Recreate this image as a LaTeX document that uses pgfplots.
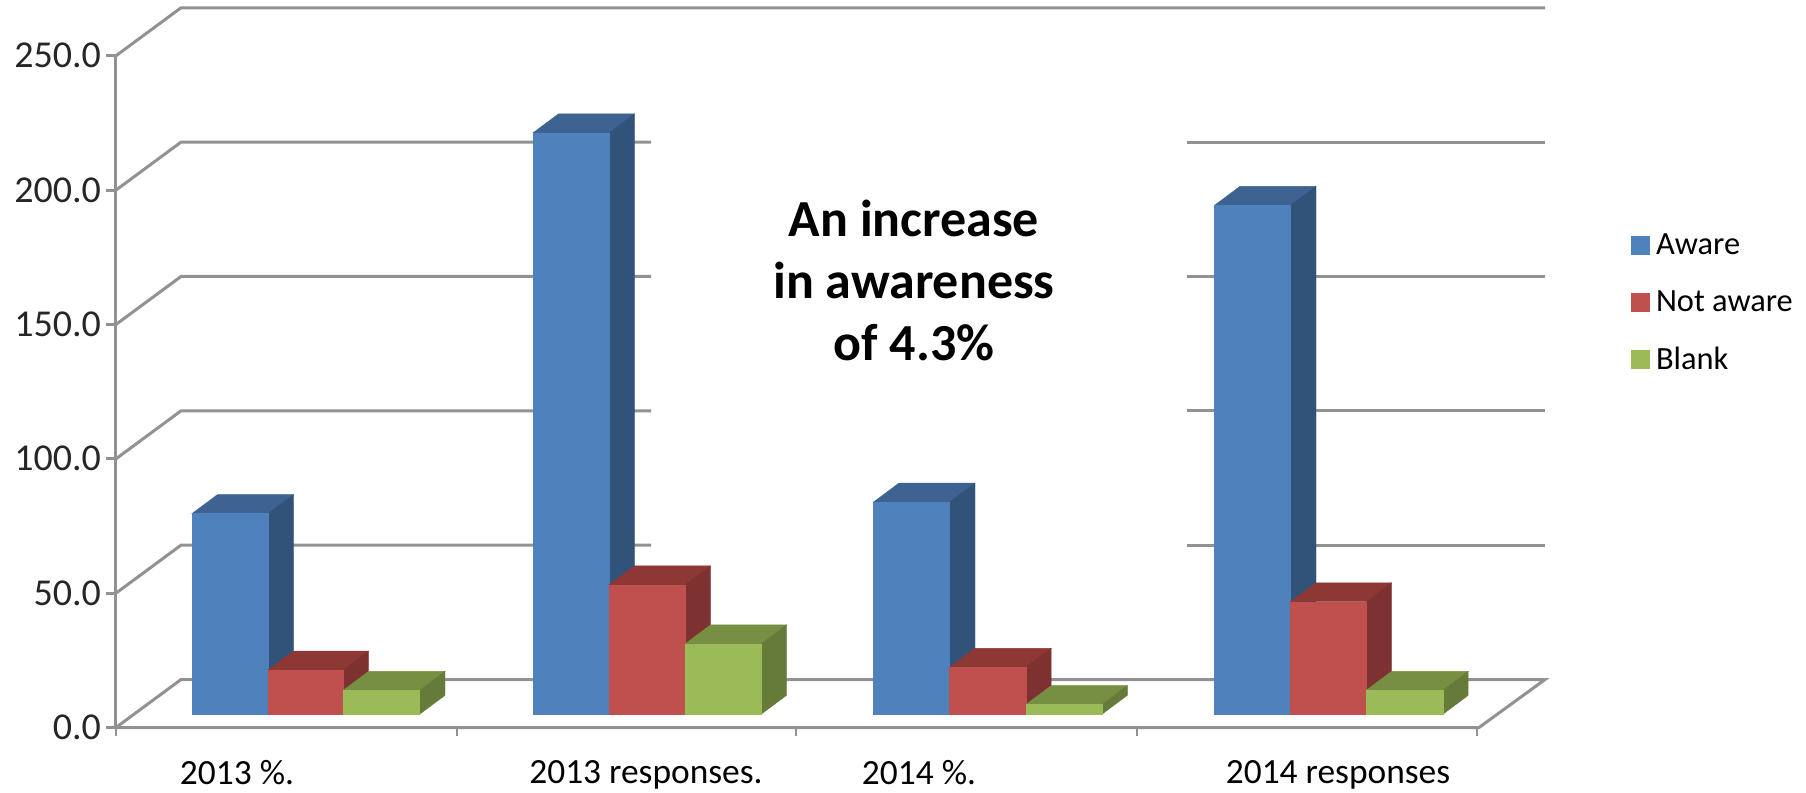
\documentclass[border=0pt]{standalone}
\usepackage{fontspec}
\setmainfont{Carlito}
\usepackage{pgfplots}
\pgfplotsset{compat=1.18}

\definecolor{gridgray}{HTML}{929292}
\definecolor{awareF}{HTML}{4F81BD}
\definecolor{awareT}{HTML}{3E6291}
\definecolor{awareS}{HTML}{315279}
\definecolor{notF}{HTML}{C0504D}
\definecolor{notT}{HTML}{8E3836}
\definecolor{notS}{HTML}{7D3130}
\definecolor{blankF}{HTML}{9BBB59}
\definecolor{blankT}{HTML}{768F42}
\definecolor{blankS}{HTML}{667B39}

% x runs in pixels of the page, y in chart units; the bars stand a little
% inside the floor, and each has a receding top and side face
\newcommand{\floorlift}{4.9}
\newcommand{\depthx}{25.5}
\newcommand{\depthy}{7.07}
\newcommand{\threedbar}[4]{%
  \pgfmathsetmacro{\ybase}{\floorlift}%
  \pgfmathsetmacro{\ytop}{\floorlift+#3}%
  \pgfmathsetmacro{\ybacktop}{\ytop+\depthy}%
  \pgfmathsetmacro{\ybackbase}{\ybase+\depthy}%
  \pgfmathsetmacro{\xbackl}{#1+\depthx}%
  \pgfmathsetmacro{\xbackr}{#2+\depthx}%
  \addplot[forget plot,draw=#4T,line width=0.2pt,fill=#4T] coordinates {(#1,\ytop) (#2,\ytop) (\xbackr,\ybacktop) (\xbackl,\ybacktop)} --cycle;
  \addplot[forget plot,draw=#4S,line width=0.2pt,fill=#4S] coordinates {(#2,\ybase) (\xbackr,\ybackbase) (\xbackr,\ybacktop) (#2,\ytop)} --cycle;
  \addplot[forget plot,draw=#4F,line width=0.2pt,fill=#4F] coordinates {(#1,\ybase) (#2,\ybase) (#2,\ytop) (#1,\ytop)} --cycle;
}
\pgfplotsset{wall/.style={forget plot,gridgray,line width=1.5pt}}

\begin{document}
\begin{tikzpicture}
\useasboundingbox (-58pt,-32.75pt) rectangle (845pt,363.75pt);
\begin{axis}[
  scale only axis,
  width=845pt, height=363.75pt,
  xmin=116, xmax=1806,
  ymin=0, ymax=270.75,
  clip=false,
  axis line style={draw=none},
  tick align=outside,
  xtick pos=bottom, ytick pos=left,
  ytick={0,50,100,150,200,250},
  yticklabel style={
    /pgf/number format/fixed,
    /pgf/number format/fixed zerofill,
    /pgf/number format/precision=1,
    /pgf/number format/assume math mode=true,
    font=\fontsize{19}{21}\selectfont, text=black!85, xshift=1pt},
  major tick length=5pt,
  minor tick length=4pt,
  major y tick style={gridgray,line width=1.4pt},
  major x tick style={draw=none},
  minor x tick style={gridgray,line width=0.9pt},
  xtick={237,646,919,1338},
  xticklabels={2013 \%.,2013 responses.,2014 \%.,2014 responses},
  minor xtick={116,457,796,1137,1477},
  xticklabel style={font=\fontsize{17.7}{20}\selectfont, text=black, yshift=-8pt},
  legend style={draw=none, fill=none, at={(0.896,0.685)}, anchor=north west,
    inner sep=0pt, row sep=12.5pt,
    font=\fontsize{16.2}{19}\selectfont,
    /tikz/every even column/.append style={column sep=0pt}},
  legend cell align=left,
  legend image code/.code={\fill[#1,draw=none] (0pt,-4.7pt) rectangle (9.5pt,4.7pt);\path[draw=none,fill=none] (0pt,0pt) -- (10.7pt,0pt);},
]
% side walls, back wall and floor
\addplot[wall] coordinates {(116,0) (116,250)};
\addplot[wall] coordinates {(116,0) (181,17.85) (1545,17.85) (1479,0) (116,0)};
\addplot[wall] coordinates {(116,50) (181,67.85) (651,67.85)};
\addplot[wall] coordinates {(116,100) (181,117.85) (651,117.85)};
\addplot[wall] coordinates {(116,150) (181,167.85) (651,167.85)};
\addplot[wall] coordinates {(116,200) (181,217.85) (651,217.85)};
\addplot[wall] coordinates {(116,250) (181,267.85) (1545,267.85)};
\addplot[wall] coordinates {(1187,67.85) (1545,67.85)};
\addplot[wall] coordinates {(1187,117.85) (1545,117.85)};
\addplot[wall] coordinates {(1187,167.85) (1545,167.85)};
\addplot[wall] coordinates {(1187,217.85) (1545,217.85)};

% 2013 %.
\threedbar{192}{268}{74.7}{aware}
\threedbar{268}{343}{16.5}{not}
\threedbar{343}{419.5}{8.9}{blank}
% 2013 responses.
\threedbar{533}{609}{216.4}{aware}
\threedbar{609}{685}{48.2}{not}
\threedbar{685}{761}{26.2}{blank}
% 2014 %.
\threedbar{873.5}{949.5}{79.0}{aware}
\threedbar{949.5}{1025.7}{17.5}{not}
\threedbar{1025.7}{1101.8}{3.6}{blank}
% 2014 responses
\threedbar{1214.4}{1290.5}{189.4}{aware}
\threedbar{1290.5}{1366}{41.9}{not}
\threedbar{1366}{1442.7}{8.9}{blank}

\addlegendimage{fill=awareF}
\addlegendentry{Aware}
\addlegendimage{fill=notF}
\addlegendentry{Not aware}
\addlegendimage{fill=blankF}
\addlegendentry{Blank}

\node[align=center, font=\fontsize{26}{31}\selectfont\bfseries, text=black]
  at (axis cs:914,166.2) {An increase\\in awareness\\of 4.3\%};
\end{axis}
\end{tikzpicture}
\end{document}
